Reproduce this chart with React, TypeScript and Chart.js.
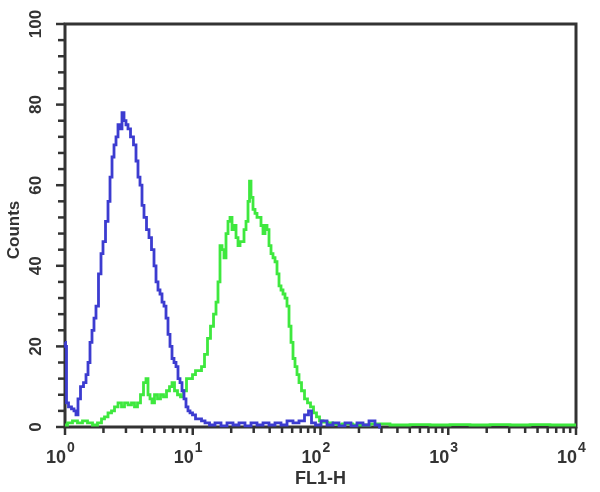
import React, { useEffect, useRef } from "react";
import { Chart, registerables } from "chart.js";

Chart.register(...registerables);

// ---- Data (FL1-H value, counts) ----
const blueFL1 = [
  1.0, 1.018, 1.037, 1.094, 1.155, 1.197, 1.241, 1.287, 1.359, 1.434, 1.487, 1.541, 1.598, 1.656, 1.717, 1.78,
  1.879, 1.948, 2.02, 2.132, 2.211, 2.292, 2.376, 2.463, 2.553, 2.647, 2.744, 2.844, 2.949, 3.057, 3.17, 3.346,
  3.531, 3.661, 3.795, 3.935, 4.079, 4.229, 4.464, 4.628, 4.885, 5.065, 5.251, 5.443, 5.643, 5.85, 6.065, 6.287,
  6.518, 6.757, 7.005, 7.262, 7.528, 7.805, 8.091, 8.388, 8.696, 9.015, 9.346, 9.69, 10.23, 10.8, 11.4, 12.03,
  12.93, 14.15, 15.76, 17.57, 19.57, 21.81, 24.29, 27.07, 30.17, 33.61, 37.45, 41.73, 46.48, 51.8, 57.72, 64.29,
  71.65, 78.41, 82.76, 87.36, 95.59, 106.5, 118.7, 132.2, 147.3, 164.2, 182.9, 203.8, 227.1, 253.0, 281.9, 297.6,
];
const blueCounts = [
  21, 20, 6, 5, 4.5, 4, 3, 7, 10, 11, 13, 16, 21, 24, 27, 30,
  38, 43, 46, 51, 56, 62, 67, 70, 72, 75, 74, 78, 76, 75, 74, 72,
  70, 66, 62, 60, 55, 52, 49, 47, 44, 40, 36, 34, 33, 31, 30, 27,
  23, 20, 17, 16, 15, 12, 11, 9, 7, 5, 4, 3.5, 3, 2, 2, 1.5,
  1, 0.5, 1, 0.3, 1, 0.5, 1, 0.3, 1, 0.5, 1, 0.5, 1, 0.5, 1.5, 1,
  1.5, 3, 4, 1, 0.5, 1.5, 0.5, 1, 0.3, 1, 0.3, 1, 0.5, 1.5, 0.5, 0,
];
const greenFL1 = [
  1.0, 1.094, 1.197, 1.31, 1.434, 1.569, 1.717, 1.879, 1.984, 2.094, 2.251, 2.376, 2.508, 2.696, 2.844, 3.003,
  3.227, 3.406, 3.595, 3.795, 4.006, 4.229, 4.384, 4.545, 4.712, 4.885, 5.157, 5.443, 5.745, 6.065, 6.402, 6.757,
  7.005, 7.394, 7.805, 8.239, 8.696, 9.18, 9.69, 10.23, 10.8, 11.4, 12.03, 12.7, 13.4, 14.15, 14.94, 15.48,
  16.05, 16.64, 17.25, 17.88, 18.54, 19.22, 19.93, 20.66, 21.42, 22.21, 23.02, 23.87, 24.74, 25.65, 26.59, 27.57,
  28.07, 29.09, 30.17, 31.27, 32.42, 33.61, 34.84, 36.12, 37.45, 38.82, 40.25, 41.73, 43.26, 44.85, 46.49, 48.2,
  49.97, 51.8, 53.7, 55.67, 57.72, 59.84, 62.03, 64.31, 66.67, 69.11, 72.95, 77.0, 81.28, 85.79, 90.56, 95.59,
  100.9, 108.4, 118.7, 129.9, 142.2, 155.5, 203.8, 292.3, 419.1, 601.0, 861.9, 1236, 1772, 2542, 3645, 5227,
  7495, 10000,
];
const greenCounts = [
  0.5, 1, 1.5, 1, 1.5, 1, 0.5, 1, 2, 2.5, 3.5, 4, 5, 6, 5, 6,
  5.5, 6, 5, 6, 8, 11, 12, 8, 7, 6, 8, 7, 8, 7.5, 9, 10,
  11, 9, 8, 7.5, 9, 12, 12, 13, 14, 14, 15, 18, 22, 25, 28, 31,
  36, 45, 44, 42, 48, 51, 52, 49, 50, 47, 45, 46, 46, 49, 51, 56,
  61, 57, 54, 53, 52, 52, 50, 48, 50, 49, 45, 43, 42, 41, 38, 35,
  34, 33, 32, 30, 25, 21, 17, 15, 13, 11, 9, 7, 6, 5, 3.5, 2.5,
  1.5, 1.2, 1, 0.8, 0.6, 0.8, 0.5, 0.8, 0.5, 0.6, 0.5, 0.6, 0.5, 0.6, 0.5, 0.6,
  0.5, 0.5,
];

const yTickValues = [0, 20, 40, 60, 80, 100];
const yTickLabels = ["0", "20", "40", "60", "80", "100"];
const yMinorStep = 4;
const xDecades = [1, 10, 100, 1000, 10000];
const xDecadeExponents = ["0", "1", "2", "3", "4"];
const xTitle = "FL1-H";
const yTitle = "Counts";

const FONT = "'Liberation Sans', Arial, sans-serif";
const INK = "#333333";
const BLUE = "#3c3cd0";
const GREEN = "#3ee83e";

const axesPlugin = {
  id: "facsAxes",
  beforeDatasetsDraw(chart: any) {
    const { ctx, chartArea: a, scales } = chart;
    const xs = scales.x;
    const ys = scales.y;
    ctx.save();
    ctx.strokeStyle = INK;
    ctx.lineWidth = 3;
    ctx.strokeRect(a.left, a.top, a.right - a.left, a.bottom - a.top);

    ctx.lineWidth = 2.5;
    ctx.lineCap = "butt";
    for (let v = 0; v <= 100; v += yMinorStep) {
      const y = ys.getPixelForValue(v);
      const major = yTickValues.includes(v);
      ctx.beginPath();
      ctx.moveTo(a.left, y);
      ctx.lineTo(a.left - (major ? 9 : 7), y);
      ctx.stroke();
    }
    for (let i = 0; i < xDecades.length; i++) {
      const d = xDecades[i];
      const maxM = i === xDecades.length - 1 ? 1 : 9;
      for (let m = 1; m <= maxM; m++) {
        const x = xs.getPixelForValue(m * d);
        ctx.beginPath();
        ctx.moveTo(x, a.bottom);
        ctx.lineTo(x, a.bottom + (m === 1 ? 8 : 6));
        ctx.stroke();
      }
    }
    ctx.restore();
  },
  afterDraw(chart: any) {
    const { ctx, chartArea: a, scales } = chart;
    const xs = scales.x;
    const ys = scales.y;
    ctx.save();
    ctx.fillStyle = INK;
    ctx.font = `bold 17px ${FONT}`;
    ctx.textAlign = "center";
    ctx.textBaseline = "middle";
    yTickValues.forEach((v, i) => {
      const y = ys.getPixelForValue(v);
      ctx.save();
      ctx.translate(a.left - 29, y);
      ctx.rotate(-Math.PI / 2);
      ctx.fillText(yTickLabels[i], 0, 0);
      ctx.restore();
    });
    ctx.save();
    ctx.font = `bold 17px ${FONT}`;
    ctx.translate(14, 230);
    ctx.rotate(-Math.PI / 2);
    ctx.fillText(yTitle, 0, 0);
    ctx.restore();
    ctx.textBaseline = "alphabetic";
    xDecades.forEach((d, i) => {
      const x = xs.getPixelForValue(d);
      ctx.font = `bold 18px ${FONT}`;
      ctx.textAlign = "right";
      ctx.fillText("10", x + 1, a.bottom + 36);
      ctx.font = `bold 14px ${FONT}`;
      ctx.textAlign = "left";
      ctx.fillText(xDecadeExponents[i], x + 2, a.bottom + 25);
    });
    ctx.font = `bold 18px ${FONT}`;
    ctx.textAlign = "center";
    ctx.fillText(xTitle, (a.left + a.right) / 2, a.bottom + 57);
    ctx.restore();
  },
};

export default function App() {
  const canvasRef = useRef<HTMLCanvasElement | null>(null);

  useEffect(() => {
    const canvas = canvasRef.current;
    if (!canvas) return;
    const chart = new Chart(canvas, {
      type: "line",
      data: {
        datasets: [
          {
            label: "control",
            data: blueFL1.map((x, i) => ({ x, y: blueCounts[i] })),
            borderColor: BLUE,
            borderWidth: 2.8,
            pointRadius: 0,
            stepped: "middle",
            fill: false,
            clip: { left: 3, top: 0, right: 0, bottom: 4 } as any,
          },
          {
            label: "antibody",
            data: greenFL1.map((x, i) => ({ x, y: greenCounts[i] })),
            borderColor: GREEN,
            borderWidth: 2.8,
            pointRadius: 0,
            stepped: "middle",
            fill: false,
            clip: { left: 3, top: 0, right: 0, bottom: 4 } as any,
          },
        ],
      },
      options: {
        animation: false,
        responsive: true,
        maintainAspectRatio: false,
        layout: { padding: { left: 65, top: 24, right: 24, bottom: 65 } },
        plugins: {
          legend: { display: false },
          tooltip: { enabled: false },
          title: { display: false },
        },
        scales: {
          x: { type: "logarithmic", min: 1, max: 10000, display: false },
          y: { type: "linear", min: 0, max: 100, display: false },
        },
      },
      plugins: [axesPlugin],
    });
    return () => chart.destroy();
  }, []);

  return (
    <div style={{ position: "fixed", left: 0, top: 0, width: 600, height: 492, background: "#ffffff" }}>
      <canvas ref={canvasRef} />
    </div>
  );
}
